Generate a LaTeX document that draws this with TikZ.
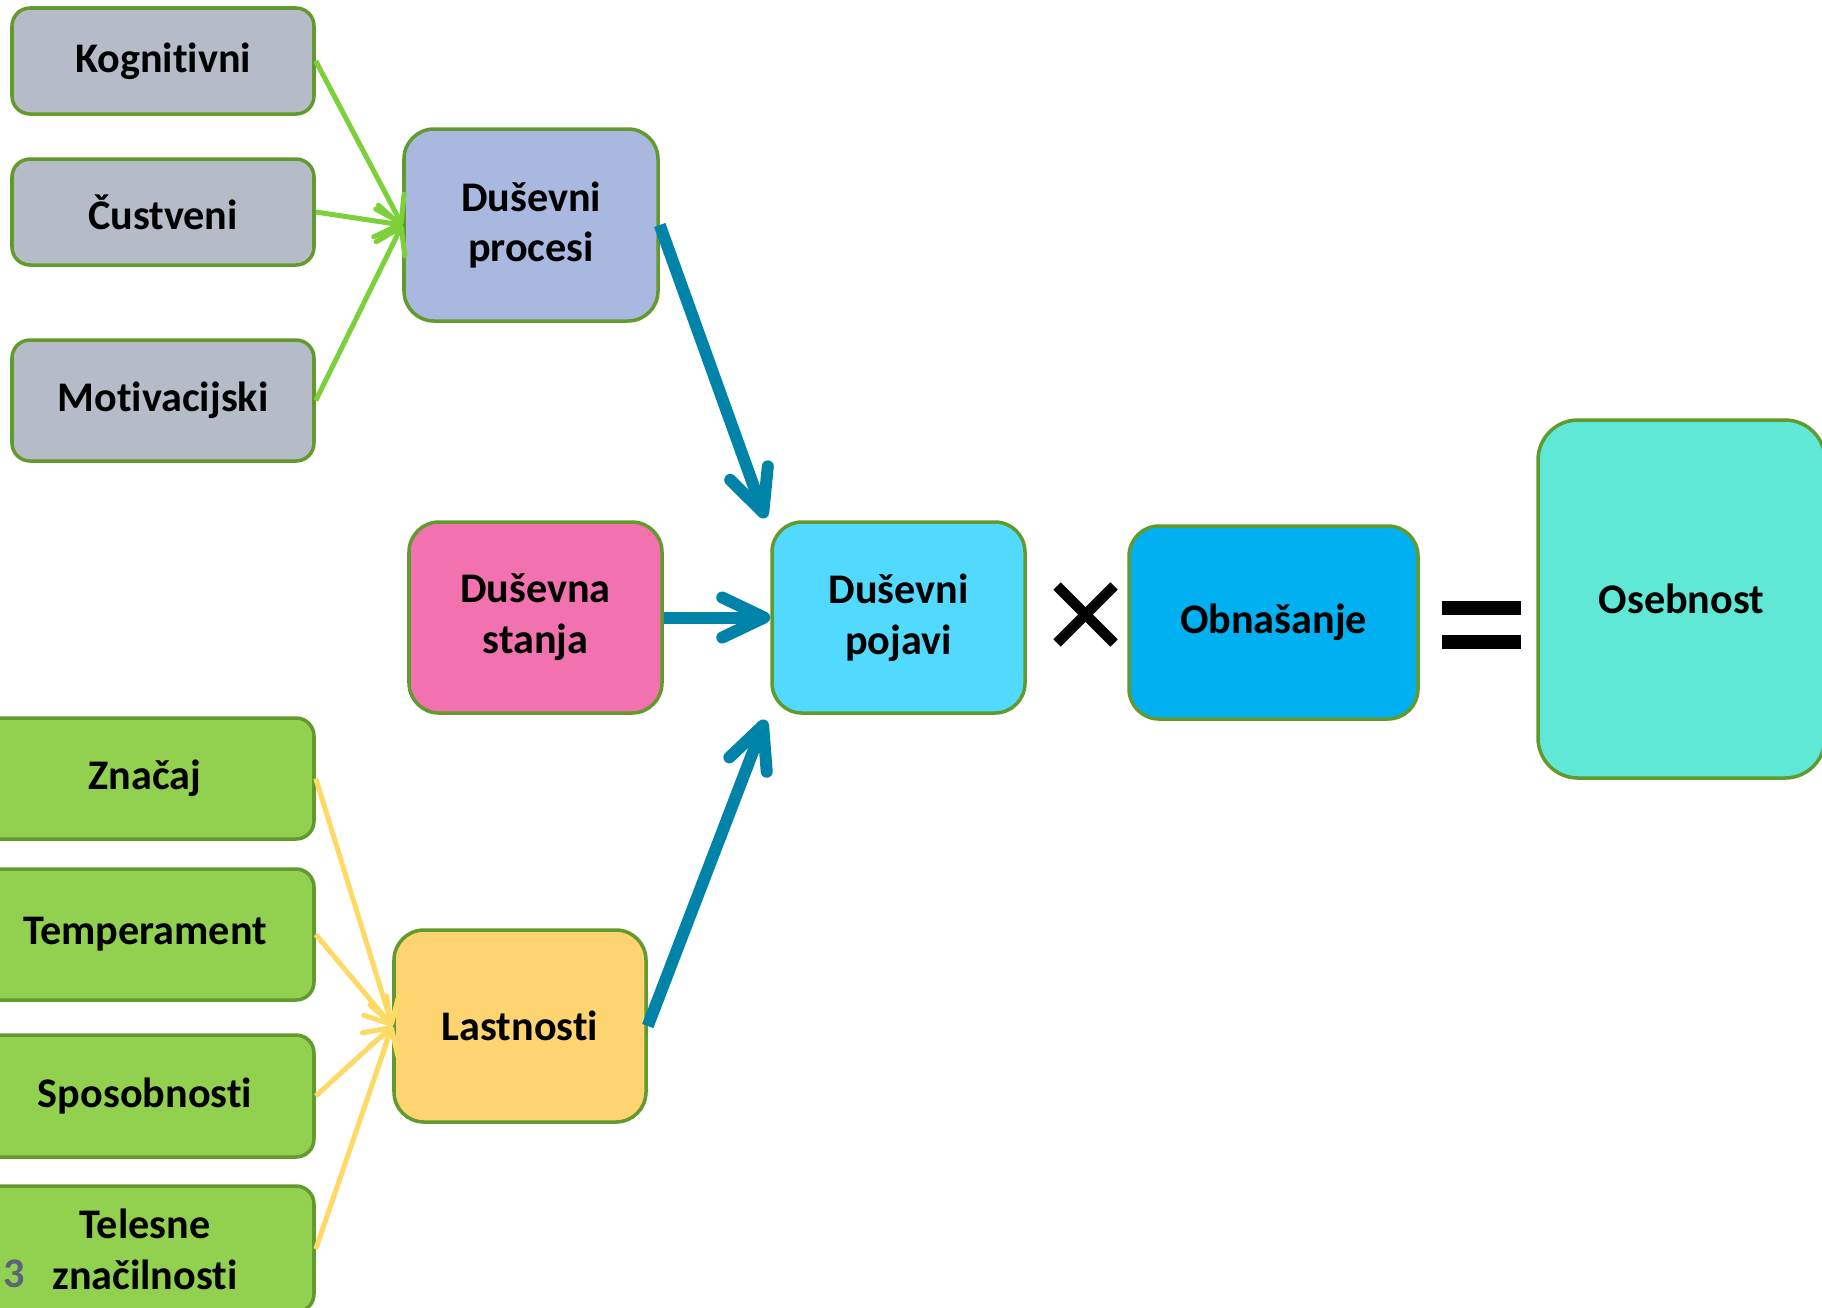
\documentclass[tikz,border=0pt]{standalone}
\usepackage{fontspec}
\setmainfont{Carlito}[Ligatures=NoCommon]
\usetikzlibrary{arrows.meta}
\definecolor{obroba}{HTML}{629A2E}
\definecolor{siva}{HTML}{B5BCC8}
\definecolor{zelena}{HTML}{92D050}
\definecolor{vijolicna}{HTML}{A9B8DE}
\definecolor{roza}{HTML}{F272B0}
\definecolor{svetlomodra}{HTML}{52D9FE}
\definecolor{modra}{HTML}{00B0F0}
\definecolor{turkizna}{HTML}{5FE8D6}
\definecolor{rumena}{HTML}{FDD46F}
\definecolor{pzelena}{HTML}{7CD13A}
\definecolor{pmodra}{HTML}{0083A9}
\definecolor{prumena}{HTML}{FFD966}
\definecolor{stevilka}{HTML}{5B6479}
\begin{document}
\begin{tikzpicture}[box/.style = {draw=obroba, line width=1pt, align=center, inner sep=0pt, font=\fontsize{12}{14.5}\selectfont\bfseries},
	mali/.style = {box, rounded corners=0.18cm},
	srednji/.style = {box, rounded corners=0.3cm, minimum width=2.53cm, minimum height=1.91cm},
	zelpus/.style = {draw=pzelena, line width=0.05cm, -{Straight Barb[length=0.24cm,width=0.32cm,round]}},
	rumpus/.style = {draw=prumena, line width=0.05cm, -{Straight Barb[length=0.24cm,width=0.3cm,round]}},
	modpus/.style = {draw=pmodra, line width=0.12cm, -{Straight Barb[length=0.42cm,width=0.4cm,round]}}]
		\useasboundingbox (0,0) rectangle (18.22,-13.07);
		%Skatle
		\node[mali, fill=siva, minimum width=3.02cm, minimum height=1.06cm] (kog) at (1.63,-0.61) {Kognitivni};
		\node[mali, fill=siva, minimum width=3.02cm, minimum height=1.06cm] (cus) at (1.63,-2.12) {Čustveni};
		\node[mali, fill=siva, minimum width=3.02cm, minimum height=1.21cm] (mot) at (1.63,-4.005) {Motivacijski};
		\node[srednji, fill=vijolicna, minimum width=2.54cm, minimum height=1.92cm] (pro) at (5.31,-2.25) {Duševni\\procesi};
		\node[srednji, fill=roza] (sta) at (5.355,-6.175) {Duševna\\stanja};
		\node[srednji, fill=svetlomodra] (poj) at (8.985,-6.175) {Duševni\\pojavi};
		\node[srednji, fill=modra, minimum width=2.89cm, minimum height=1.93cm] (obn) at (12.735,-6.225) {Obnašanje};
		\node[box, rounded corners=0.4cm, fill=turkizna, minimum width=2.87cm, minimum height=3.58cm] (ose) at (16.815,-5.99) {Osebnost};
		\node[mali, fill=zelena, minimum width=3.38cm, minimum height=1.21cm] (zna) at (1.45,-7.785) {Značaj};
		\node[mali, fill=zelena, minimum width=3.38cm, minimum height=1.31cm] (tem) at (1.45,-9.345) {Temperament};
		\node[mali, fill=zelena, minimum width=3.38cm, minimum height=1.22cm] (spo) at (1.45,-10.96) {Sposobnosti};
		\node[mali, fill=zelena, minimum width=3.38cm, minimum height=1.26cm] (tel) at (1.45,-12.49) {Telesne\\značilnosti};
		\node[srednji, fill=rumena, minimum width=2.52cm, minimum height=1.92cm] (las) at (5.20,-10.26) {Lastnosti};
		\node[font=\fontsize{12}{14.5}\selectfont\bfseries, text=stevilka] (stran) at (0.14,-12.74) {3};
		% Puscice
		\draw[zelpus] (kog.east) -- (pro.west);	% kog-pro
		\draw[zelpus] (cus.east) -- (pro.west);	% cus-pro
		\draw[zelpus] (mot.east) -- (pro.west);	% mot-pro
		\draw[rumpus] (zna.east) -- (las.west);	% zna-las
		\draw[rumpus] (tem.east) -- (las.west);	% tem-las
		\draw[rumpus] (spo.east) -- (las.west);	% spo-las
		\draw[rumpus] (tel.east) -- (las.west);	% tel-las
		\draw[modpus] (pro.east) -- ([xshift=-0.05cm,yshift=0.02cm]poj.north west);	% pro-poj
		\draw[modpus] (sta.east) -- (poj.west);	% sta-poj
		\draw[modpus] (las.east) -- ([xshift=-0.05cm,yshift=-0.05cm]poj.south west);	% las-poj
		% Krat in je
		\draw[line width=0.105cm] (10.57,-5.86) -- (11.14,-6.43);
		\draw[line width=0.105cm] (10.57,-6.43) -- (11.14,-5.86);
		\fill (14.42,-6.01) rectangle (15.21,-6.15);
		\fill (14.42,-6.35) rectangle (15.21,-6.49);
\end{tikzpicture}
\end{document}
